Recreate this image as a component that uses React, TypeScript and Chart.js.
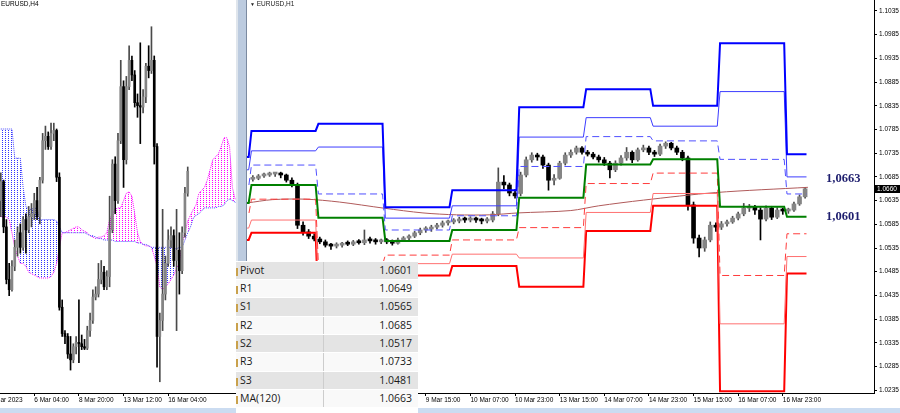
import React, { useEffect, useRef } from 'react';
import { Chart, registerables } from 'chart.js';

Chart.register(...registerables);

// ================= LEFT PANEL: EURUSD H4 (bar 0 = 3 Mar 2023, 4-hour bars) =================
const H4_OPEN = [
  1.0640, 1.0653, 1.0622, 1.0586, 1.0579, 1.0595, 1.0608, 1.0618, 1.0608, 1.0627,
  1.0620, 1.0629, 1.0631, 1.0640, 1.0629, 1.0654, 1.0681, 1.0684, 1.0677, 1.0686,
  1.0688, 1.0656, 1.0567, 1.0549, 1.0547, 1.0535, 1.0531, 1.0540, 1.0543, 1.0542,
  1.0540, 1.0539, 1.0551, 1.0558, 1.0574, 1.0576, 1.0586, 1.0591, 1.0581, 1.0588,
  1.0620, 1.0665, 1.0640, 1.0681, 1.0718, 1.0668, 1.0718, 1.0736, 1.0726, 1.0707,
  1.0705, 1.0704, 1.0711, 1.0732, 1.0729, 1.0736, 1.0677, 1.0547, 1.0558, 1.0576,
  1.0597, 1.0613, 1.0616, 1.0599, 1.0606, 1.0592, 1.0618, 1.0645,
];
const H4_HIGH = [
  1.0659, 1.0654, 1.0627, 1.0597, 1.0599, 1.0613, 1.0622, 1.0624, 1.0629, 1.0631,
  1.0636, 1.0638, 1.0645, 1.0649, 1.0656, 1.0686, 1.0691, 1.0687, 1.0693, 1.0693,
  1.0689, 1.0659, 1.0572, 1.0551, 1.0549, 1.0547, 1.0542, 1.0547, 1.0572, 1.0548,
  1.0545, 1.0554, 1.0563, 1.0579, 1.0581, 1.0597, 1.0599, 1.0595, 1.0592, 1.0643,
  1.0668, 1.0670, 1.0686, 1.0736, 1.0722, 1.0725, 1.0746, 1.0739, 1.0729, 1.0713,
  1.0748, 1.0716, 1.0734, 1.0746, 1.0759, 1.0739, 1.0679, 1.0563, 1.0634, 1.0602,
  1.0620, 1.0622, 1.0620, 1.0634, 1.0618, 1.0622, 1.0649, 1.0663,
];
const H4_LOW = [
  1.0629, 1.0618, 1.0583, 1.0575, 1.0578, 1.0592, 1.0602, 1.0604, 1.0606, 1.0604,
  1.0618, 1.0622, 1.0627, 1.0627, 1.0624, 1.0652, 1.0675, 1.0675, 1.0675, 1.0681,
  1.0653, 1.0565, 1.0547, 1.0542, 1.0532, 1.0524, 1.0529, 1.0535, 1.0529, 1.0538,
  1.0538, 1.0538, 1.0547, 1.0556, 1.0572, 1.0574, 1.0583, 1.0579, 1.0579, 1.0581,
  1.0618, 1.0631, 1.0638, 1.0679, 1.0649, 1.0665, 1.0716, 1.0722, 1.0704, 1.0697,
  1.0679, 1.0700, 1.0707, 1.0724, 1.0727, 1.0665, 1.0526, 1.0516, 1.0551, 1.0572,
  1.0595, 1.0608, 1.0595, 1.0551, 1.0576, 1.0590, 1.0615, 1.0643,
];
const H4_CLOSE = [
  1.0653, 1.0622, 1.0586, 1.0579, 1.0595, 1.0608, 1.0618, 1.0608, 1.0627, 1.0620,
  1.0629, 1.0631, 1.0640, 1.0629, 1.0654, 1.0681, 1.0684, 1.0677, 1.0686, 1.0688,
  1.0656, 1.0567, 1.0549, 1.0547, 1.0535, 1.0531, 1.0540, 1.0543, 1.0542, 1.0540,
  1.0539, 1.0551, 1.0558, 1.0574, 1.0576, 1.0586, 1.0591, 1.0581, 1.0588, 1.0620,
  1.0665, 1.0640, 1.0681, 1.0718, 1.0668, 1.0718, 1.0736, 1.0726, 1.0707, 1.0705,
  1.0704, 1.0711, 1.0732, 1.0729, 1.0736, 1.0677, 1.0547, 1.0558, 1.0576, 1.0597,
  1.0613, 1.0616, 1.0599, 1.0606, 1.0592, 1.0618, 1.0645, 1.0660,
];
// Ichimoku Senkou spans (shifted forward), one value per H4 bar
const SPAN_A = [
  1.0689, 1.0689, 1.0689, 1.0689, 1.0689, 1.0669, 1.0669, 1.0669, 1.0649, 1.0636,
  1.0634, 1.0634, 1.0635, 1.0635, 1.0627, 1.0627, 1.0627, 1.0627, 1.0627, 1.0627,
  1.0626, 1.0622, 1.0618, 1.0618, 1.0618, 1.0618, 1.0618, 1.0618, 1.0618, 1.0618,
  1.0618, 1.0617, 1.0616, 1.0616, 1.0615, 1.0614, 1.0614, 1.0613, 1.0613, 1.0613,
  1.0613, 1.0612, 1.0612, 1.0612, 1.0612, 1.0612, 1.0612, 1.0612, 1.0612, 1.0611,
  1.0611, 1.0610, 1.0610, 1.0609, 1.0608, 1.0608, 1.0608, 1.0608, 1.0608, 1.0608,
  1.0608, 1.0608, 1.0607, 1.0607, 1.0608, 1.0608, 1.0613, 1.0618, 1.0622, 1.0628,
  1.0630, 1.0631, 1.0633, 1.0635, 1.0635, 1.0635, 1.0635, 1.0635, 1.0636, 1.0636,
  1.0637, 1.0640, 1.0641, 1.0640, 1.0639, 1.0637, 1.0637,
];
const SPAN_B = [
  1.0629, 1.0629, 1.0629, 1.0627, 1.0618, 1.0608, 1.0602, 1.0597, 1.0597, 1.0595,
  1.0591, 1.0590, 1.0589, 1.0588, 1.0587, 1.0587, 1.0587, 1.0587, 1.0588, 1.0591,
  1.0597, 1.0608, 1.0618, 1.0618, 1.0619, 1.0620, 1.0621, 1.0622, 1.0622, 1.0620,
  1.0619, 1.0618, 1.0616, 1.0615, 1.0614, 1.0615, 1.0615, 1.0616, 1.0618, 1.0627,
  1.0631, 1.0634, 1.0635, 1.0635, 1.0640, 1.0645, 1.0646, 1.0643, 1.0631, 1.0618,
  1.0612, 1.0610, 1.0609, 1.0609, 1.0608, 1.0602, 1.0595, 1.0581, 1.0579, 1.0581,
  1.0583, 1.0586, 1.0589, 1.0594, 1.0597, 1.0611, 1.0618, 1.0626, 1.0630, 1.0634,
  1.0637, 1.0645, 1.0647, 1.0649, 1.0654, 1.0661, 1.0668, 1.0670, 1.0672, 1.0677,
  1.0683, 1.0683, 1.0677, 1.0649, 1.0641, 1.0640, 1.0637,
];
const H4_TICK_BARS = [-4, 12, 28, 44, 60];
const H4_TICK_LABELS = ['1 Mar 2023', '6 Mar 04:00', '8 Mar 20:00', '13 Mar 12:00', '16 Mar 04:00'];

// ================= RIGHT PANEL: EURUSD H1 (hours since 7 Mar 00:00, 2-hour candles) =================
const H1_OPEN = [
  1.0680, 1.0682, 1.0687, 1.0689, 1.0691, 1.0693, 1.0689, 1.0678, 1.0668, 1.0583,
  1.0569, 1.0560, 1.0554, 1.0548, 1.0541, 1.0539, 1.0541, 1.0545, 1.0543, 1.0548,
  1.0546, 1.0552, 1.0550, 1.0548, 1.0550, 1.0548, 1.0545, 1.0552, 1.0556, 1.0560,
  1.0567, 1.0573, 1.0575, 1.0579, 1.0583, 1.0588, 1.0590, 1.0592, 1.0596, 1.0594,
  1.0596, 1.0594, 1.0592, 1.0594, 1.0607, 1.0674, 1.0668, 1.0651, 1.0650, 1.0689,
  1.0721, 1.0731, 1.0727, 1.0710, 1.0678, 1.0682, 1.0714, 1.0731, 1.0737, 1.0746,
  1.0737, 1.0733, 1.0727, 1.0721, 1.0714, 1.0700, 1.0714, 1.0725, 1.0737, 1.0721,
  1.0742, 1.0746, 1.0737, 1.0733, 1.0750, 1.0756, 1.0746, 1.0737, 1.0725, 1.0626,
  1.0556, 1.0535, 1.0552, 1.0583, 1.0579, 1.0586, 1.0590, 1.0598, 1.0607, 1.0619,
  1.0621, 1.0615, 1.0596, 1.0619, 1.0600, 1.0615, 1.0613, 1.0615, 1.0628, 1.0643,
];
const H1_HIGH = [
  1.0688, 1.0690, 1.0693, 1.0695, 1.0694, 1.0695, 1.0691, 1.0683, 1.0672, 1.0590,
  1.0574, 1.0565, 1.0558, 1.0552, 1.0545, 1.0546, 1.0547, 1.0550, 1.0551, 1.0553,
  1.0573, 1.0558, 1.0555, 1.0554, 1.0555, 1.0552, 1.0556, 1.0559, 1.0563, 1.0570,
  1.0577, 1.0580, 1.0583, 1.0587, 1.0592, 1.0594, 1.0597, 1.0600, 1.0600, 1.0601,
  1.0600, 1.0598, 1.0599, 1.0612, 1.0704, 1.0688, 1.0672, 1.0658, 1.0695, 1.0727,
  1.0736, 1.0735, 1.0731, 1.0714, 1.0690, 1.0718, 1.0736, 1.0742, 1.0750, 1.0749,
  1.0741, 1.0737, 1.0731, 1.0726, 1.0718, 1.0719, 1.0730, 1.0747, 1.0740, 1.0746,
  1.0752, 1.0750, 1.0741, 1.0754, 1.0759, 1.0758, 1.0750, 1.0741, 1.0729, 1.0632,
  1.0562, 1.0558, 1.0590, 1.0588, 1.0591, 1.0594, 1.0602, 1.0611, 1.0629, 1.0627,
  1.0625, 1.0620, 1.0624, 1.0623, 1.0620, 1.0619, 1.0619, 1.0632, 1.0647, 1.0663,
];
const H1_LOW = [
  1.0676, 1.0679, 1.0684, 1.0686, 1.0686, 1.0683, 1.0674, 1.0664, 1.0576, 1.0562,
  1.0555, 1.0550, 1.0544, 1.0537, 1.0532, 1.0535, 1.0537, 1.0540, 1.0540, 1.0543,
  1.0542, 1.0545, 1.0543, 1.0544, 1.0544, 1.0541, 1.0543, 1.0549, 1.0552, 1.0557,
  1.0563, 1.0568, 1.0570, 1.0575, 1.0579, 1.0583, 1.0586, 1.0588, 1.0589, 1.0590,
  1.0589, 1.0586, 1.0588, 1.0590, 1.0603, 1.0660, 1.0645, 1.0640, 1.0645, 1.0685,
  1.0716, 1.0720, 1.0703, 1.0657, 1.0668, 1.0680, 1.0710, 1.0726, 1.0733, 1.0733,
  1.0729, 1.0723, 1.0716, 1.0709, 1.0683, 1.0696, 1.0710, 1.0720, 1.0715, 1.0718,
  1.0738, 1.0732, 1.0728, 1.0730, 1.0745, 1.0742, 1.0732, 1.0719, 1.0615, 1.0545,
  1.0516, 1.0528, 1.0548, 1.0570, 1.0574, 1.0581, 1.0587, 1.0594, 1.0603, 1.0612,
  1.0606, 1.0552, 1.0592, 1.0595, 1.0597, 1.0606, 1.0608, 1.0612, 1.0625, 1.0640,
];
const H1_CLOSE = [
  1.0682, 1.0687, 1.0689, 1.0691, 1.0693, 1.0689, 1.0678, 1.0668, 1.0583, 1.0569,
  1.0560, 1.0554, 1.0548, 1.0541, 1.0539, 1.0541, 1.0545, 1.0543, 1.0548, 1.0546,
  1.0552, 1.0550, 1.0548, 1.0550, 1.0548, 1.0545, 1.0552, 1.0556, 1.0560, 1.0567,
  1.0573, 1.0575, 1.0579, 1.0583, 1.0588, 1.0590, 1.0592, 1.0596, 1.0594, 1.0596,
  1.0594, 1.0592, 1.0594, 1.0607, 1.0674, 1.0668, 1.0651, 1.0645, 1.0689, 1.0721,
  1.0731, 1.0727, 1.0710, 1.0678, 1.0682, 1.0714, 1.0731, 1.0737, 1.0746, 1.0737,
  1.0733, 1.0727, 1.0721, 1.0714, 1.0700, 1.0714, 1.0725, 1.0737, 1.0721, 1.0742,
  1.0746, 1.0737, 1.0733, 1.0750, 1.0756, 1.0746, 1.0737, 1.0725, 1.0626, 1.0556,
  1.0535, 1.0552, 1.0583, 1.0579, 1.0586, 1.0590, 1.0598, 1.0607, 1.0619, 1.0621,
  1.0615, 1.0596, 1.0619, 1.0600, 1.0615, 1.0613, 1.0615, 1.0628, 1.0643, 1.0660,
];
// Daily pivot levels: 6, 7, 8, 9, 10, 13, 14, 15, 16, 17 Mar
const DAY_START_HOURS = [-24, 0, 24, 48, 72, 96, 120, 144, 168, 192];
const LAST_HOUR = 200;
const LV_R3 = [1.0727, 1.0782, 1.0797, 1.0621, 1.0657, 1.0832, 1.0870, 1.0835, 1.0967, 1.0733];
const LV_R2 = [1.0700, 1.0740, 1.0748, 1.0598, 1.0624, 1.0769, 1.0810, 1.0792, 1.0865, 1.0685];
const LV_R1 = [1.0664, 1.0710, 1.0649, 1.0573, 1.0603, 1.0707, 1.0770, 1.0761, 1.0722, 1.0649];
const LV_P = [1.0630, 1.0668, 1.0599, 1.0550, 1.0573, 1.0641, 1.0711, 1.0722, 1.0622, 1.0601];
const LV_S1 = [1.0605, 1.0638, 1.0500, 1.0520, 1.0552, 1.0578, 1.0671, 1.0693, 1.0477, 1.0565];
const LV_S2 = [1.0577, 1.0594, 1.0451, 1.0502, 1.0522, 1.0514, 1.0610, 1.0650, 1.0375, 1.0517];
const LV_S3 = [1.0552, 1.0567, 1.0402, 1.0477, 1.0497, 1.0453, 1.0571, 1.0624, 1.0233, 1.0481];
// MA(120)
const MA_HOURS = [-1, 8, 20, 32, 48, 62, 74, 86, 96, 115, 125, 141, 167, 200];
const MA_VALUES = [1.0630, 1.0637, 1.0638, 1.0632, 1.0619, 1.0609, 1.0605, 1.0605, 1.0609, 1.0614, 1.0624, 1.0636, 1.0652, 1.0663];

const H1_TICK_HOURS = [15, 31, 47, 63, 79, 95, 111, 127, 143, 159, 175, 191];
const H1_TICK_LABELS = [
  '7 Mar 15:00', '8 Mar 07:00', '8 Mar 23:00', '9 Mar 15:00', '10 Mar 07:00', '10 Mar 23:00',
  '13 Mar 15:00', '14 Mar 07:00', '14 Mar 23:00', '15 Mar 15:00', '16 Mar 07:00', '16 Mar 23:00',
];
const PRICE_TICKS = [
  1.0235, 1.0285, 1.0335, 1.0385, 1.0435, 1.0485, 1.0535, 1.0585, 1.0635,
  1.0685, 1.0735, 1.0785, 1.0835, 1.0885, 1.0935, 1.0985, 1.1035,
];
const LAST_PRICE = '1.0660';

const TABLE_LABELS = ['Pivot', 'R1', 'S1', 'R2', 'S2', 'R3', 'S3', 'MA(120)'];
const TABLE_VALUES = ['1.0601', '1.0649', '1.0565', '1.0685', '1.0517', '1.0733', '1.0481', '1.0663'];
const NOTE_MA = '1,0663';
const NOTE_PIVOT = '1,0601';

// ================= helpers =================
const AXIS_FONT = { family: '"Liberation Sans", Arial, sans-serif', size: 6.5 };
const BULL_BODY = '#858585';
const BULL_WICK = '#4a4a4a';
const BEAR = '#000000';

function candleSets(xs: number[], o: number[], h: number[], l: number[], c: number[], bodyW: number, minLen: number) {
  const up = o.map((v, i) => c[i] >= v);
  return [
    {
      type: 'bar',
      data: xs.map((x, i) => ({ x, y: [l[i], h[i]] })),
      backgroundColor: up.map((u) => (u ? BULL_WICK : BEAR)),
      borderWidth: 0,
      grouped: false,
      barThickness: 1,
      maxBarThickness: 1,
      order: 3,
    },
    {
      type: 'bar',
      data: xs.map((x, i) => ({ x, y: [o[i], c[i]] })),
      backgroundColor: up.map((u) => (u ? BULL_BODY : BEAR)),
      borderWidth: 0,
      grouped: false,
      barThickness: bodyW,
      maxBarThickness: bodyW,
      minBarLength: minLen,
      order: 2,
    },
  ];
}

function stepSeries(levels: number[]) {
  const pts: { x: number; y: number }[] = [];
  levels.forEach((v, d) => {
    const start = DAY_START_HOURS[d] + 0.5;
    const end = (d + 1 < DAY_START_HOURS.length ? DAY_START_HOURS[d + 1] : LAST_HOUR) - 0.5;
    pts.push({ x: start, y: v }, { x: end, y: v });
  });
  return pts;
}

function levelLine(levels: number[], color: string, width: number, dash: number[] = []) {
  return {
    type: 'line',
    data: stepSeries(levels),
    borderColor: color,
    borderWidth: width,
    borderDash: dash,
    pointRadius: 0,
    tension: 0,
    fill: false,
    order: 1,
  };
}

function dotPattern(ctx: CanvasRenderingContext2D, color: string) {
  const c = document.createElement('canvas');
  c.width = 3;
  c.height = 2;
  const g = c.getContext('2d')!;
  g.fillStyle = color;
  g.fillRect(1, 0, 1, 1);
  return ctx.createPattern(c, 'repeat')!;
}

function xAxis(min: number, max: number, tickVals: number[], tickLabels: string[]) {
  return {
    type: 'linear',
    min,
    max,
    offset: false,
    grid: { offset: false, drawOnChartArea: false, drawTicks: true, tickLength: 3, color: '#000', lineWidth: 1 },
    border: { display: true, color: '#000', width: 1 },
    ticks: {
      align: 'start',
      padding: 0,
      autoSkip: false,
      maxRotation: 0,
      minRotation: 0,
      color: '#000',
      font: AXIS_FONT,
      callback: (_v: any, i: number) => tickLabels[i],
    },
    afterBuildTicks: (s: any) => {
      s.ticks = tickVals.map((v) => ({ value: v }));
    },
    afterFit: (s: any) => {
      s.height = 20;
      s.paddingLeft = 0;
      s.paddingRight = 0;
    },
  };
}

const BASE_OPTIONS = {
  animation: false,
  responsive: false,
  maintainAspectRatio: false,
  devicePixelRatio: 1,
  events: [],
  layout: { padding: 0 },
  plugins: { legend: { display: false }, tooltip: { enabled: false }, title: { display: false } },
};

export default function App() {
  const leftRef = useRef<HTMLCanvasElement>(null);
  const rightRef = useRef<HTMLCanvasElement>(null);

  useEffect(() => {
    const charts: Chart[] = [];
    // ---------- left ----------
    const lctx = leftRef.current!.getContext('2d')!;
    const blueP = dotPattern(lctx, 'rgb(50,50,255)');
    const magP = dotPattern(lctx, 'rgb(255,0,255)');
    const spanX = SPAN_A.map((_, j) => j);
    const h4X = H4_OPEN.map((_, j) => j);
    charts.push(
      new Chart(lctx, {
        type: 'bar',
        data: {
          datasets: [
            {
              type: 'line',
              data: spanX.map((x, j) => ({ x, y: SPAN_A[j] })),
              borderColor: 'rgb(70,70,255)',
              borderWidth: 1,
              borderDash: [1, 1],
              pointRadius: 0,
              tension: 0,
              fill: { target: 1, above: blueP, below: magP },
              order: 5,
            },
            {
              type: 'line',
              data: spanX.map((x, j) => ({ x, y: SPAN_B[j] })),
              borderColor: 'rgb(255,0,255)',
              borderWidth: 1,
              borderDash: [1, 1],
              pointRadius: 0,
              tension: 0,
              fill: false,
              order: 6,
            },
            ...candleSets(h4X, H4_OPEN, H4_HIGH, H4_LOW, H4_CLOSE, 2, 1),
          ] as any,
        },
        options: {
          ...BASE_OPTIONS,
          scales: {
            x: xAxis(-7.455, 85.02, H4_TICK_BARS, H4_TICK_LABELS),
            y: {
              type: 'linear',
              display: false,
              min: 1.05083,
              max: 1.07773,
              beginAtZero: false,
              afterFit: (s: any) => {
                s.width = 0;
                s.paddingTop = 0;
                s.paddingBottom = 0;
              },
            },
          },
        } as any,
      })
    );

    // ---------- right ----------
    const rctx = rightRef.current!.getContext('2d')!;
    const h1X = H1_OPEN.map((_, i) => 2 * i + 1);
    charts.push(
      new Chart(rctx, {
        type: 'bar',
        data: {
          datasets: [
            levelLine(LV_R3, '#0000ff', 2),
            levelLine(LV_R2, '#3c3cff', 1),
            levelLine(LV_R1, '#5050ff', 1, [7, 4]),
            levelLine(LV_P, '#008000', 2),
            levelLine(LV_S1, '#ff3c3c', 1, [7, 4]),
            levelLine(LV_S2, '#ff7070', 1),
            levelLine(LV_S3, '#ff0000', 2),
            {
              type: 'line',
              data: MA_HOURS.map((x, i) => ({ x, y: MA_VALUES[i] })),
              borderColor: '#b05a5a',
              borderWidth: 1,
              pointRadius: 0,
              tension: 0.3,
              fill: false,
              order: 1,
            },
            ...candleSets(h1X, H1_OPEN, H1_HIGH, H1_LOW, H1_CLOSE, 4, 2),
          ] as any,
        },
        options: {
          ...BASE_OPTIONS,
          scales: {
            x: xAxis(-1.1, 223.7, H1_TICK_HOURS, H1_TICK_LABELS),
            y: {
              type: 'linear',
              position: 'right',
              min: 1.02291,
              max: 1.10582,
              beginAtZero: false,
              grid: { drawOnChartArea: false, drawTicks: true, tickLength: 3, color: '#000', lineWidth: 1 },
              border: { display: true, color: '#000', width: 1 },
              ticks: {
                padding: 2,
                color: '#000',
                font: AXIS_FONT,
                callback: (v: any) => Number(v).toFixed(4),
              },
              afterBuildTicks: (s: any) => {
                s.ticks = PRICE_TICKS.map((v) => ({ value: v }));
              },
              afterFit: (s: any) => {
                s.width = 26;
                s.paddingTop = 0;
                s.paddingBottom = 0;
              },
            },
          },
        } as any,
      })
    );
    return () => charts.forEach((c) => c.destroy());
  }, []);

  const abs: React.CSSProperties = { position: 'absolute' };
  const smallFont = '"Liberation Sans", Arial, sans-serif';
  const rowH = 18.33;

  return (
    <div
      style={{
        position: 'fixed',
        left: 0,
        top: 0,
        width: 900,
        height: 413,
        overflow: 'hidden',
        background: '#ffffff',
      }}
    >
      <canvas ref={leftRef} width={258} height={413} style={{ ...abs, left: -20, top: 0, width: 258, height: 413 }} />
      <canvas ref={rightRef} width={653} height={413} style={{ ...abs, left: 247, top: 0, width: 653, height: 413 }} />

      {/* separator between the two windows */}
      <div style={{ ...abs, left: 236, top: 0, width: 2, height: 262, background: '#dfe5ec' }} />
      <div style={{ ...abs, left: 238, top: 0, width: 8, height: 262, background: '#bccbdf' }} />
      <div style={{ ...abs, left: 246, top: 0, width: 1, height: 262, background: '#7b8aa0' }} />

      {/* bottom status strip */}
      <div style={{ ...abs, left: 0, top: 408, width: 900, height: 5, background: '#cbdcf1' }} />

      {/* window titles */}
      <div style={{ ...abs, left: 1, top: 0, fontFamily: smallFont, fontSize: 6.5, lineHeight: '8px', color: '#000' }}>
        EURUSD,H4
      </div>
      <div style={{ ...abs, left: 250, top: 0, fontFamily: smallFont, fontSize: 6.5, lineHeight: '8px', color: '#222' }}>
        <span style={{ fontSize: 5 }}>▼</span> EURUSD,H1
      </div>

      {/* annotations */}
      <div
        style={{
          ...abs,
          left: 826,
          top: 172,
          fontFamily: '"Liberation Serif", "Times New Roman", serif',
          fontWeight: 'bold',
          fontSize: 12.5,
          lineHeight: '13px',
          color: '#1e1e6e',
        }}
      >
        {NOTE_MA}
      </div>
      <div
        style={{
          ...abs,
          left: 826,
          top: 210,
          fontFamily: '"Liberation Serif", "Times New Roman", serif',
          fontWeight: 'bold',
          fontSize: 12.5,
          lineHeight: '13px',
          color: '#1e1e6e',
        }}
      >
        {NOTE_PIVOT}
      </div>

      {/* current price box */}
      <div
        style={{
          ...abs,
          left: 874,
          top: 184.5,
          width: 26,
          height: 8,
          background: '#000',
          color: '#fff',
          fontFamily: smallFont,
          fontSize: 6.5,
          lineHeight: '8px',
          paddingLeft: 3,
          boxSizing: 'border-box',
        }}
      >
        {LAST_PRICE}
      </div>

      {/* levels table */}
      <div style={{ ...abs, left: 236, top: 261, width: 182, height: 152, background: '#ffffff' }}>
        {TABLE_LABELS.map((lab, k) => (
          <div
            key={lab}
            style={{
              ...abs,
              left: 0,
              top: 0.7 + k * rowH,
              width: 182,
              height: rowH - 1,
              background: k % 2 === 0 ? '#e4e4e4' : '#f9f9f9',
              fontFamily: '"Open Sans", "Noto Sans", sans-serif',
              fontSize: 10.5,
              color: '#1a1a1a',
            }}
          >
            <div style={{ ...abs, left: 0, top: 6, width: 2, height: 8, background: '#c9a14c' }} />
            <span style={{ ...abs, left: 4, top: 0, lineHeight: `${rowH - 1}px` }}>{lab}</span>
            <div style={{ ...abs, left: 87, top: 0, width: 1, height: rowH - 1, background: '#cdcdcd' }} />
            <span style={{ ...abs, right: 6, top: 0, lineHeight: `${rowH - 1}px` }}>{TABLE_VALUES[k]}</span>
          </div>
        ))}
      </div>
    </div>
  );
}
